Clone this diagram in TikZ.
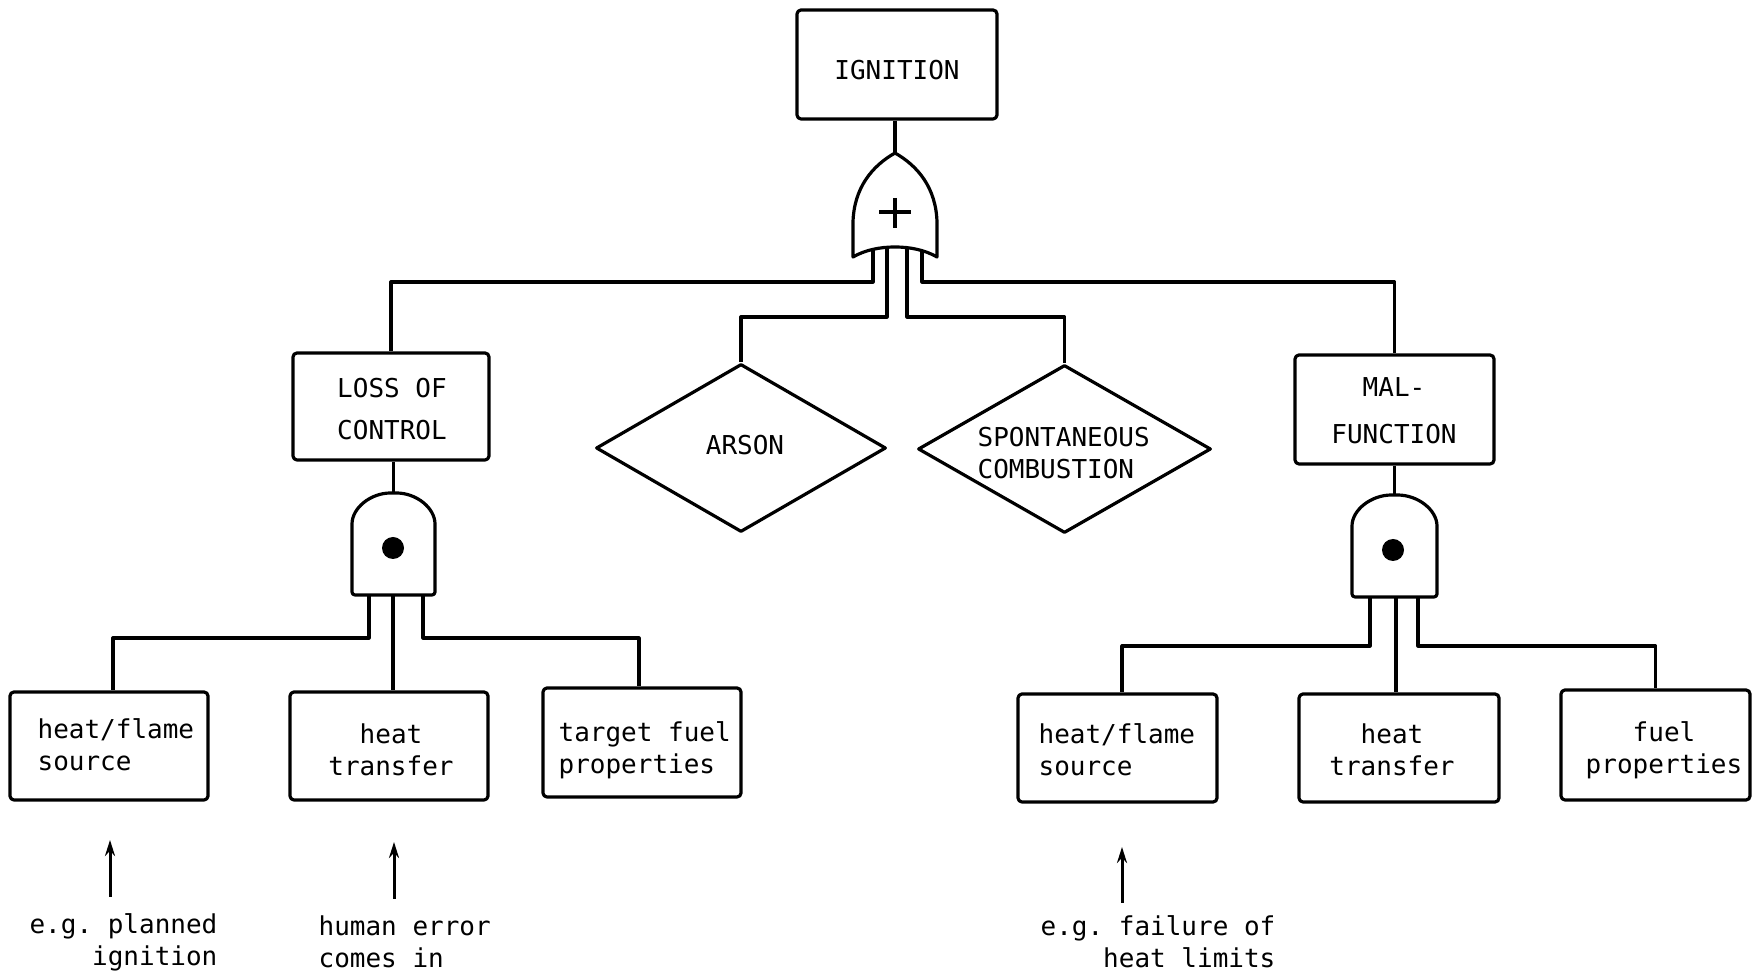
\documentclass[tikz,border=0pt]{standalone}
\usepackage{fontspec}
\setmonofont{DejaVu Sans Mono}
\usetikzlibrary{shapes.geometric,arrows.meta,calc}
\begin{document}
\begin{tikzpicture}[x=0.5pt,y=-0.5pt,
  line width=1.6pt, line join=round,
  every node/.style={font=\ttfamily\fontsize{13}{16}\selectfont, inner sep=0pt},
  event/.style={draw, rounded corners=2pt, line width=1.6pt},
  undev/.style={draw, diamond, line width=1.6pt},
  gatefill/.style={draw, fill=white, line width=1.6pt},
  ptr/.style={line width=1.5pt, -{Stealth[length=8pt,width=5pt]}}]
\useasboundingbox (0,0) rectangle (1752,977);

% ---------- events ----------
\node[event, minimum width=100pt, minimum height=54.5pt] (ign) at (897,64.5) {};
\node (ignT) at (897,70) {IGNITION};

\node[event, minimum width=98pt, minimum height=53.5pt] (loss) at (391,406.5) {};
\node[align=center] (lossT) at (392,409) {LOSS OF\\[5pt]CONTROL};

\node[undev, minimum width=145pt, minimum height=84pt] (arson) at (741,448) {};
\node (arsonT) at (745,445) {ARSON};

\node[undev, minimum width=146.5pt, minimum height=84pt] (spont) at (1064.5,449) {};
\node[align=left, anchor=west] (spontT) at (976,453) {SPONTANEOUS\\COMBUSTION};

\node[event, minimum width=99.5pt, minimum height=54.5pt] (mal) at (1394.5,409.5) {};
\node[align=center] (malT) at (1394,411) {MAL-\\[7.5pt]FUNCTION};

\node[event, minimum width=99pt, minimum height=54pt] (hfL) at (109,746) {};
\node[align=left, anchor=west] (hfLT) at (36,745) {heat/flame\\source};

\node[event, minimum width=99pt, minimum height=54pt] (htL) at (389,746) {};
\node[align=center] (htLT) at (391,750) {heat\\transfer};

\node[event, minimum width=99pt, minimum height=54.5pt] (tfL) at (642,742.5) {};
\node[align=left, anchor=west] (tfLT) at (557,750) {target fuel\\properties};

\node[event, minimum width=99.5pt, minimum height=54pt] (hfR) at (1117.5,748) {};
\node[align=left, anchor=west] (hfRT) at (1037,750) {heat/flame\\source};

\node[event, minimum width=100pt, minimum height=54pt] (htR) at (1399,748) {};
\node[align=center] (htRT) at (1392,750) {heat\\transfer};

\node[event, minimum width=94.5pt, minimum height=55pt] (fp) at (1655.5,745) {};
\node[align=center] (fpT) at (1664,750) {fuel\\properties};

% ---------- gate terminals ----------
\coordinate (orTop) at (895,153);
\coordinate (orC) at (895,212);
\coordinate (or1) at (873,246);
\coordinate (or2) at (887,244);
\coordinate (or3) at (907,244);
\coordinate (or4) at (922,246);

\coordinate (andLtop) at (393.5,493);
\coordinate (aL1) at (369,595);
\coordinate (aL2) at (393,595);
\coordinate (aL3) at (423,595);

\coordinate (andRtop) at (1394.5,495);
\coordinate (aR1) at (1370,597);
\coordinate (aR2) at (1396,597);
\coordinate (aR3) at (1418,597);

% ---------- connectors ----------
\draw (ign.south -| orTop) -- (orTop);
\draw (or1) -- ++(0,36) -| (loss.north);
\draw (or4) -- ++(0,36) -| (mal.north);
\draw (or2) -- ++(0,73) -| (arson.north);
\draw (or3) -- ++(0,73) -| (spont.north);

\draw (loss.south -| andLtop) -- (andLtop);
\draw (mal.south -| andRtop) -- (andRtop);

\draw (aL1) -- ++(0,43) -| ([xshift=2pt]hfL.north);
\draw (aL2) -- (aL2 |- htL.north);
\draw (aL3) -- ++(0,43) -| ([xshift=-1.5pt]tfL.north);

\draw (aR1) -- ++(0,49) -| ([xshift=2.25pt]hfR.north);
\draw (aR2) -- (aR2 |- htR.north);
\draw (aR3) -- ++(0,49) -| (fp.north);

% ---------- OR gate ----------
\draw[gatefill] (orTop) .. controls (872,166) and (854,188) .. (853,222) -- (853,257)
  .. controls (865,250) and (880,247) .. (895,247)
  .. controls (910,247) and (925,250) .. (937,257) -- (937,222)
  .. controls (936,188) and (918,166) .. (orTop) -- cycle;
\draw[line width=1.7pt] (orC) ++(-16,0) -- ++(32,0) (orC) ++(0,-14) -- ++(0,30);

% ---------- AND gates ----------
\draw[gatefill, rounded corners=1.5pt] (352,595) -- (352,527)
  .. controls (352,508) and (370.6,493) .. (andLtop)
  .. controls (416.4,493) and (435,508) .. (435,527) -- (435,595) -- cycle;
\fill (393,548) circle[radius=5.5pt];

\draw[gatefill, rounded corners=1.5pt] (1352,597) -- (1352,529)
  .. controls (1352,510) and (1371,495) .. (andRtop)
  .. controls (1418,495) and (1437,510) .. (1437,529) -- (1437,597) -- cycle;
\fill (1393,550) circle[radius=5.5pt];

% ---------- annotations ----------
\coordinate (p1) at (110,897); \coordinate (q1) at (110,840);
\coordinate (p2) at (394,899); \coordinate (q2) at (394,842);
\coordinate (p3) at (1122,903); \coordinate (q3) at (1122,847);
\draw[ptr] (p1) -- (q1);
\draw[ptr] (p2) -- (q2);
\draw[ptr] (p3) -- (q3);

\node[align=right, anchor=east] (n1) at (219,942) {e.g. planned\\ignition};
\node[align=left, anchor=west] (n2) at (317,942) {human error\\comes in};
\node[align=right, anchor=east] (n3) at (1277,942) {e.g. failure of\\heat limits};
\end{tikzpicture}
\end{document}
